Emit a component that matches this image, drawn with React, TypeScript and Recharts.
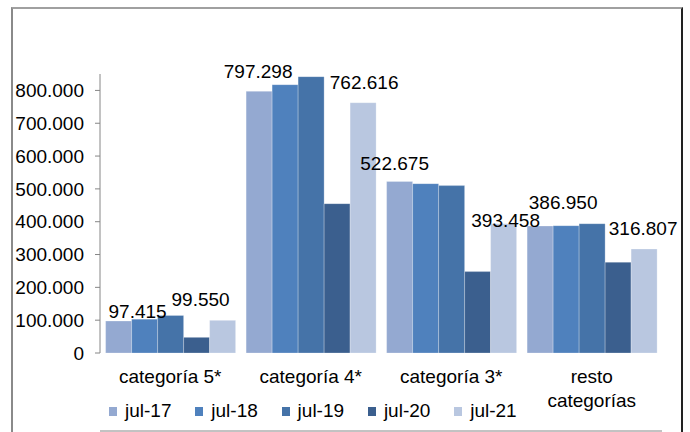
import { BarChart, Bar, XAxis, YAxis, LabelList } from 'recharts';

const categories = ['categoría 5*', 'categoría 4*', 'categoría 3*', 'resto categorías'];
const seriesNames = ['jul-17', 'jul-18', 'jul-19', 'jul-20', 'jul-21'];

const jul17 = [97415, 797298, 522675, 386950];
const jul18 = [103000, 817500, 516000, 388000];
const jul19 = [114500, 842000, 510000, 394000];
const jul20 = [47700, 455000, 248000, 276500];
const jul21 = [99550, 762616, 393458, 316807];

const yTicks = [0, 100000, 200000, 300000, 400000, 500000, 600000, 700000, 800000];

const seriesValues = [jul17, jul18, jul19, jul20, jul21];
const colors = ['#94a9d1', '#4f81bd', '#4573a8', '#3b5f8e', '#b9c7e0'];

// hand placed labels in the original, nudges per category [dx, dy]
const nudge17: [number, number][] = [[19, 10], [-1, 0], [-5, 2], [23, -4]];
const nudge21: [number, number][] = [[-22, -1], [1, -1], [2, 16], [-1, -1]];

const rows = categories.map((name, i) => {
    const row: Record<string, string | number> = { name };
    seriesNames.forEach((s, k) => {
        row[s] = seriesValues[k][i];
    });
    return row;
});

const edges = categories.map((_, i) => i).concat(categories.length);

const FONT = '"Liberation Sans", Arial, sans-serif';

const formatThousands = (v: number) =>
    v === 0 ? '0' : String(Math.round(v)).replace(/\B(?=(\d{3})+(?!\d))/g, '.');

const CategoryTick = (props: any) => {
    const { x, y, payload } = props;
    const label = String(payload.value);
    const lines = label.length > 14
        ? [label.split(' ')[0], label.split(' ').slice(1).join(' ')]
        : [label];
    return (
        <text x={x} y={y} textAnchor="middle" fontSize={19} fontFamily={FONT} fill="#000">
            {lines.map((l, i) => (
                <tspan key={i} x={x} dy={i === 0 ? '0.71em' : 24}>{l}</tspan>
            ))}
        </text>
    );
};

const makeLabel = (shifts: [number, number][]) => (props: any) => {
    const { x, y, width, value, index } = props;
    const [dx, dy] = shifts[index] || [0, 0];
    return (
        <text
            x={Number(x) + Number(width) / 2 + dx}
            y={Number(y) - 13 + dy}
            textAnchor="middle"
            fontSize={19}
            fontFamily={FONT}
            fill="#000"
        >
            {formatThousands(Number(value))}
        </text>
    );
};

export default function App() {
    return (
        <div style={{ position: 'absolute', left: 0, top: 0, width: 690, height: 432, overflow: 'hidden', background: '#fff', fontFamily: FONT }}>
            <div
                style={{
                    position: 'absolute',
                    left: 11,
                    top: 7,
                    width: 668,
                    height: 440,
                    borderLeft: '2px solid #8a8a8a',
                    borderTop: '2px solid #a0a0a0',
                    borderRight: '2px solid #222',
                }}
            />
            <div style={{ position: 'absolute', left: 0, top: 0 }}>
                <BarChart
                    width={690}
                    height={432}
                    data={rows}
                    margin={{ top: 74, right: 28, bottom: 0, left: 10 }}
                    barGap={0}
                    barCategoryGap="4%"
                >
                    <XAxis
                        xAxisId="edges"
                        type="number"
                        domain={[0, categories.length]}
                        ticks={edges}
                        tick={false}
                        tickSize={5}
                        height={1}
                        stroke="#868686"
                        allowDataOverflow
                    />
                    <XAxis
                        xAxisId="cat"
                        dataKey="name"
                        axisLine={false}
                        tickLine={false}
                        tickSize={6}
                        tickMargin={11}
                        height={78}
                        interval={0}
                        tick={<CategoryTick />}
                    />
                    <YAxis
                        domain={[0, 850000]}
                        ticks={yTicks}
                        width={90}
                        tickSize={5}
                        tickMargin={11}
                        stroke="#868686"
                        tickFormatter={formatThousands}
                        tick={{ fill: '#000', fontSize: 19, fontFamily: FONT }}
                        allowDataOverflow
                    />
                    {seriesNames.map((s, k) => (
                        <Bar
                            key={s}
                            xAxisId="cat"
                            dataKey={s}
                            fill={colors[k]}
                            stroke="#ffffff"
                            strokeOpacity={0.25}
                            strokeWidth={1}
                            isAnimationActive={false}
                        >
                            {k === 0 && <LabelList dataKey={s} content={makeLabel(nudge17)} />}
                            {k === 4 && <LabelList dataKey={s} content={makeLabel(nudge21)} />}
                        </Bar>
                    ))}
                </BarChart>
            </div>
            <div style={{ position: 'absolute', left: 109, top: 400, display: 'flex', fontSize: 19, lineHeight: '22px', color: '#000' }}>
                {seriesNames.map((s, k) => (
                    <div key={s} style={{ display: 'flex', alignItems: 'center', width: 86.3 }}>
                        <span style={{ display: 'inline-block', width: 8, height: 9, background: colors[k], marginRight: 8 }} />
                        <span>{s}</span>
                    </div>
                ))}
            </div>
        </div>
    );
}
